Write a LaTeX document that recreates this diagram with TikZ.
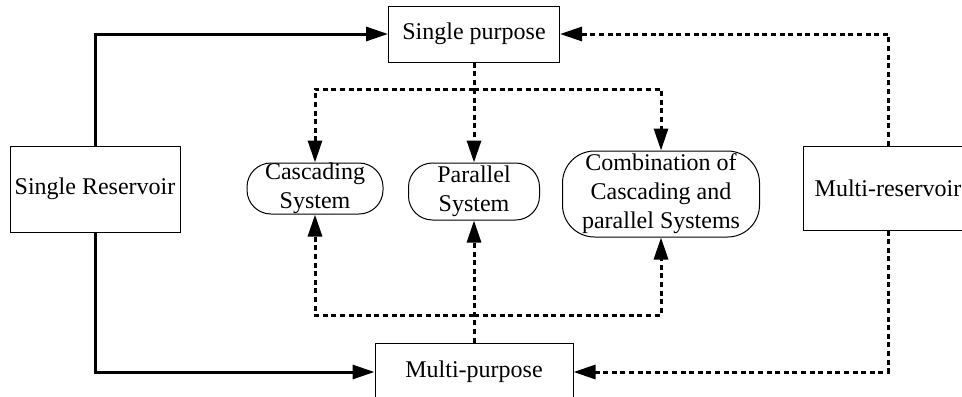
\documentclass[tikz,border=0pt]{standalone}
\usepackage{fontspec}
\setmainfont{Liberation Serif}
\usetikzlibrary{arrows.meta, positioning, shapes}

\begin{document}
\begin{tikzpicture}[x=0.5pt, y=-0.5pt,
  every node/.style={font=\fontsize{12}{14.5}\selectfont, inner sep=0pt, align=center},
  sqbox/.style={draw, line width=0.5pt, rectangle},
  pill/.style={draw, line width=0.5pt, rounded corners=12pt},
  solidarrow/.style={line width=1.5pt, -{Triangle[length=11pt, width=7pt]}},
  dashline/.style={line width=1.5pt, dash pattern=on 2.5pt off 1.8pt},
  dasharrow/.style={dashline, -{Triangle[length=11pt, width=7pt]}}]
\useasboundingbox (0,0) rectangle (962,396);

% Reservoir boxes
\node[sqbox, minimum width=85pt, minimum height=43pt] (single) at (95,189) {Single Reservoir};
\node[sqbox, minimum width=85pt, minimum height=42pt] (multi) at (888,188) {Multi-reservoir};

% Purpose boxes
\node[sqbox, minimum width=85.5pt, minimum height=28pt] (spurp) at (474,34) {Single purpose};
\node[sqbox, minimum width=99pt, minimum height=29pt] (mpurp) at (474,372) {Multi-purpose};

% System types
\node[pill, minimum width=68pt, minimum height=25.5pt] (casc) at (315,188.5) {Cascading\\System};
\node[pill, minimum width=65.5pt, minimum height=28.5pt] (para) at (474,191.5) {Parallel\\System};
\node[pill, minimum width=98.5pt, minimum height=43pt, rounded corners=16pt] (comb) at (661,194) {Combination of\\Cascading and\\parallel Systems};

% Junctions
\coordinate (topj) at (474,89);
\coordinate (botj) at (474,315);

% Single reservoir links
\draw[solidarrow] (single.north) |- (spurp.west);
\draw[solidarrow] (single.south) |- (mpurp.west);

% Multi-reservoir links
\draw[dasharrow] (multi.north) |- (spurp.east);
\draw[dasharrow] (multi.south) |- (mpurp.east);

% Single purpose to systems
\draw[dashline] (spurp.south) -- (topj);
\draw[dasharrow] (topj) -- (para.north);
\draw[dasharrow] (topj) -| (casc.north);
\draw[dasharrow] (topj) -| (comb.north);

% Multi-purpose to systems
\draw[dasharrow] (mpurp.north) -- (para.south);
\draw[dasharrow] (botj) -| (casc.south);
\draw[dasharrow] (botj) -| (comb.south);
\end{tikzpicture}
\end{document}
